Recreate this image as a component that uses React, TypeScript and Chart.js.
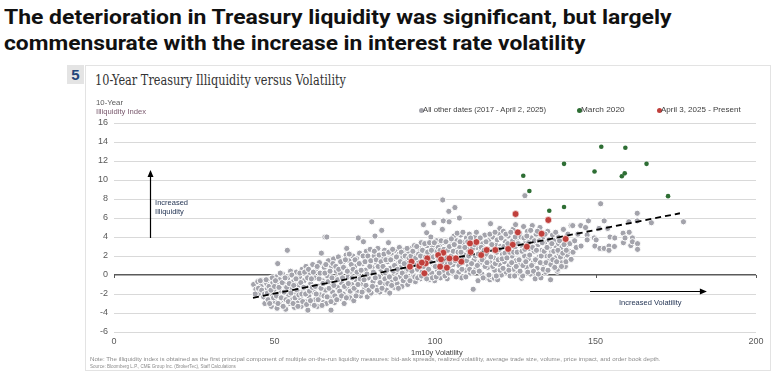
import React, { useEffect, useLayoutEffect, useRef, useState } from "react";
import { Chart, registerables } from "chart.js";
Chart.register(...registerables);

const headline = [
  "The deterioration in Treasury liquidity was significant, but largely",
  "commensurate with the increase in interest rate volatility",
];
const chartNumber = "5";
const chartTitle = "10-Year Treasury Illiquidity versus Volatility";
const yTitle1 = "10-Year";
const yTitle2 = "Illiquidity Index";
const xTitle = "1m10y Volatility";
const legendLabels = ["All other dates (2017 - April 2, 2025)", "March 2020", "April 3, 2025 - Present"];
const noteText =
  "Note: The illiquidity index is obtained as the first principal component of multiple on-the-run liquidity measures: bid-ask spreads, realized volatility, average trade size, volume, price impact, and order book depth.";
const sourceText = "Source: Bloomberg L.P., CME Group Inc. (BrokerTec), Staff Calculations";
const annotUp = ["Increased", "Illiquidity"];
const annotRight = "Increased Volatility";

const xTicks = [0, 50, 100, 150, 200];
const yTicks = [-6, -4, -2, 0, 2, 4, 6, 8, 10, 12, 14, 16];

// All other dates (2017 - April 2, 2025): [volatility, illiquidity]
const grayPoints: [number, number][] = [
  [43.5,-1.0],[44.2,-1.5],[44.8,-0.7],[45.3,-1.9],[45.8,-1.2],
  [46.3,-0.6],[46.6,-2.3],[47.0,-3.0],[47.2,-1.6],[47.6,-0.9],[48.0,-2.6],[48.3,-1.2],[48.7,-0.4],
  [49.0,-3.3],[49.2,-2.0],[49.5,-0.8],[49.9,-1.5],[50.2,-2.8],[50.5,-0.2],[50.8,-3.5],[50.9,-1.1],
  [51.0,1.2],[51.3,-2.3],[51.6,-0.5],[52.0,-3.1],[52.2,-1.7],[52.5,0.1],[52.9,-2.6],[53.2,-1.0],[53.5,-3.6],
  [54.0,2.6],[54.1,-0.3],[54.4,-2.1],[54.8,-3.0],[55.0,0.4],[55.3,-1.4],[55.6,-2.6],[55.9,-0.7],[56.2,-3.4],
  [56.5,-1.9],[56.8,0.3],[57.1,-2.9],[57.4,-1.1],[57.8,-0.2],[58.0,-2.4],[58.3,-3.3],[58.6,0.6],[58.9,-1.6],
  [59.2,-0.6],[59.5,-2.8],[59.8,0.9],[60.1,-1.3],[60.4,-3.7],[60.7,-2.2],[61.0,0.2],[61.3,-0.9],[61.6,-3.0],
  [61.9,1.1],[62.2,-1.8],[62.5,-0.3],[62.8,-2.6],[63.1,0.5],[63.4,-3.3],[63.7,-1.2],[64.0,1.3],[64.3,-2.1],
  [64.6,2.3],[64.9,-0.6],[65.2,-2.9],[65.5,0.8],[65.7,4.0],[65.9,-1.6],[66.2,-3.0],[66.3,4.0],[66.5,-0.1],[66.8,1.5],
  [67.1,-2.4],[67.4,-0.9],[67.6,-3.7],[67.8,0.9],[68.1,-1.8],[68.4,1.7],[68.7,-2.9],[69.0,-0.4],[69.3,0.4],
  [69.6,-1.3],[69.9,1.9],[70.2,-2.5],[70.5,0.2],[70.8,-0.8],[71.1,1.2],[71.4,-2.0],[71.7,-3.0],[72.0,0.7],
  [72.3,2.1],[72.5,2.8],[72.6,-1.4],[72.9,-0.2],[73.2,1.5],[73.5,-2.4],[73.8,0.4],[74.1,-1.0],[74.4,2.0],
  [74.7,-2.7],[75.0,0.9],[75.3,-0.5],[75.6,1.7],[75.9,-1.8],[76.1,3.9],[76.2,0.1],[76.5,2.3],[76.8,-2.2],
  [77.1,-0.9],[77.4,1.2],[77.7,3.5],[78.0,-1.5],[78.3,0.5],[78.6,2.5],[78.9,-2.3],[79.2,-0.3],[79.5,1.6],
  [79.8,2.7],[80.1,-1.9],[80.3,5.6],[80.4,0.8],[80.7,-0.7],[81.0,2.0],[81.3,4.1],[81.6,-1.3],[81.9,1.2],
  [82.2,2.8],[82.5,-0.2],[82.8,-1.8],[83.1,0.6],[83.4,4.7],[83.7,1.9],[84.0,-1.0],[84.3,2.6],[84.6,0.2],
  [84.9,-1.6],[85.2,1.4],[85.5,3.4],[85.9,-1.9],[86.1,0.7],[86.4,2.3],[86.7,-0.6],[87.0,1.7],[87.3,-1.3],
  [87.6,2.6],[87.9,0.3],[88.2,-0.9],[88.5,1.2],[88.8,2.2],[89.1,-0.2],[89.4,0.8],[89.7,-1.2],[90.0,1.9],
  [90.3,2.6],[90.6,-0.5],[90.9,0.4],[91.2,1.4],[91.5,-1.0],[91.8,2.3],[92.1,0.9],[92.4,-0.3],[92.7,2.8],
  [93.0,1.6],[93.3,0.0],[93.6,3.1],[93.9,-0.7],[94.2,2.2],[94.5,0.6],[94.8,1.3],[95.1,2.8],[95.4,-0.4],
  [95.7,3.4],[96.0,0.3],[96.4,5.3],[96.3,1.8],[96.6,-0.2],[96.9,2.5],[97.2,0.7],[97.4,4.45],[97.5,3.1],[97.8,1.4],[98.1,-0.5],
  [98.4,2.2],[98.7,4.0],[99.0,0.2],[99.3,3.0],[99.6,1.1],[99.7,5.5],[99.9,-0.6],[100.2,2.6],[100.5,3.6],[100.8,0.5],
  [101.1,1.6],[101.4,3.1],[101.7,-0.3],[102.0,2.3],[102.4,7.9],[102.6,5.7],[102.3,4.8],[102.6,0.3],[102.9,3.4],
  [103.2,1.2],[103.5,2.7],[103.8,-0.4],[104.1,3.6],[104.3,6.7],[104.4,5.6],[104.7,0.6],[105.0,2.0],[105.3,3.2],
  [105.6,1.1],[105.9,4.1],[106.2,7.1],[106.2,0.0],[106.5,2.6],[106.8,3.6],[107.1,1.7],[107.4,0.3],[107.6,6.0],[107.7,2.9],
  [108.0,4.2],[108.3,-0.3],[108.6,1.3],[108.9,3.4],[109.2,2.1],[109.5,0.5],[109.8,3.9],[110.1,2.7],
  [110.4,1.0],[110.7,4.3],[111.0,0.2],[111.3,2.4],[111.6,3.4],[111.9,-1.5],[112.2,1.6],[112.5,4.0],[112.8,0.7],
  [113.1,2.9],[113.4,-0.6],[113.7,3.7],[114.0,1.3],[114.3,2.5],[114.6,0.1],[114.9,3.3],[115.2,1.8],[115.5,4.2],
  [115.8,-0.3],[116.1,2.2],[116.4,0.8],[116.7,3.6],[117.0,1.4],[117.1,-0.5],[117.3,5.4],[117.4,2.8],[117.7,-0.2],[118.0,4.0],
  [118.3,1.8],[118.5,-0.35],[118.6,0.5],[118.9,3.2],[119.2,2.4],[119.5,-0.5],[119.8,4.4],[120.1,1.1],[120.2,4.9],[120.4,3.0],[120.7,0.0],
  [121.0,2.2],[121.3,4.6],[121.6,1.4],[121.9,3.5],[122.2,0.3],[122.5,2.7],[122.8,4.1],[123.1,1.0],[123.4,-0.1],
  [123.7,3.3],[124.0,2.0],[124.3,4.8],[124.6,0.6],[124.9,2.9],[125.1,5.3],[125.2,1.5],[125.5,3.8],[125.8,0.2],
  [126.1,2.4],[126.4,4.4],[126.7,1.2],[127.0,-0.35],[127.0,3.1],[127.3,-0.1],[127.6,5.1],[127.9,2.0],[128.0,8.35],[128.2,3.6],
  [128.5,0.8],[128.8,4.6],[129.1,1.7],[129.4,2.8],[129.7,0.1],[130.0,3.9],[130.3,5.2],[130.6,1.3],[130.9,2.5],
  [131.2,-0.4],[131.5,4.3],[131.8,0.7],[132.1,3.2],[132.4,1.9],[132.7,5.0],[133.0,-0.3],[133.3,2.6],[133.6,4.0],
  [133.9,1.1],[134.2,3.4],[134.5,0.3],[134.8,2.0],[135.1,4.6],[135.4,1.5],[135.7,3.0],[136.0,-0.5],[136.3,2.4],
  [136.6,4.2],[136.9,0.9],[137.2,3.6],[137.5,1.8],[137.8,2.9],[138.1,0.4],[138.2,0.6],[138.4,4.0],[138.5,3.3],[138.7,2.2],[139.0,2.6],[139.3,1.3],
  [139.5,2.9],[139.6,3.5],[140.0,4.8],[140.3,2.0],[140.5,3.8],[140.6,0.9],[140.8,1.4],[141.0,3.1],[141.2,2.1],[141.4,4.3],[141.8,2.5],
  [142.0,3.3],[142.4,1.65],[142.4,5.2],[142.9,5.2],[143.0,2.4],[143.5,3.6],[144.0,2.9],[144.5,4.3],[145.4,5.2],[145.5,3.05],
  [146.9,5.0],[147.4,4.2],[147.4,3.7],[147.8,5.7],[149.6,3.9],[149.8,3.05],[150.2,3.7],[151.1,4.9],[151.4,2.8],[151.6,7.5],
  [152.7,5.7],[152.7,2.8],[153.8,4.9],[154.2,3.05],[154.2,2.6],[154.5,4.0],[155.9,3.0],[156.0,3.9],[158.6,4.4],[158.7,3.4],
  [159.2,3.9],[160.4,5.6],[160.5,4.5],[161.0,3.1],[161.5,3.9],[161.5,3.5],[163.0,6.5],[163.0,5.7],[163.1,3.3],[163.1,2.7],
  [167.4,5.5],[177.4,5.6],
];

// More of the same series, read from the dense core of the cloud
const grayPointsCore: [number, number][] = [
  [44.0,-2.0],[45.0,-1.4],[45.6,-0.6],[46.0,-1.6],[46.9,-2.0],[47.4,-0.5],
  [47.8,-1.9],[48.5,-3.0],[48.9,-1.6],[49.3,-0.3],[49.7,-2.4],[50.0,-1.2],[50.3,-0.6],
  [50.6,-2.2],[51.1,-3.0],[51.4,-1.3],[51.8,0.2],[52.1,-2.4],[52.4,-0.8],[52.7,-3.3],[53.0,-1.8],[53.3,-0.3],[53.6,-2.6],
  [53.8,-1.3],[54.3,-2.8],[54.6,-0.9],[55.1,-1.9],[55.4,0.0],[55.8,-3.0],[56.0,-1.1],[56.4,-2.4],[56.7,-0.4],[57.0,-1.6],
  [57.3,-3.3],[57.6,-2.1],[57.9,0.2],[58.2,-0.8],[58.5,-2.0],[58.8,-2.8],[59.1,-1.3],[59.4,0.3],[59.7,-2.0],[60.0,-3.1],
  [60.3,-0.3],[60.6,0.6],[60.9,-1.7],[61.2,-2.7],[61.5,-0.4],[61.8,-1.3],[62.1,0.3],[62.4,-3.2],[62.7,-1.2],[63.0,-2.0],[63.3,0.9],
  [63.6,-2.6],[63.9,-0.4],[64.2,0.2],[64.5,-1.4],[64.8,-3.2],[65.1,-0.9],[65.4,-2.2],[65.7,0.2],[66.0,1.1],[66.4,-2.3],[66.7,-0.7],
  [67.0,-1.4],[67.3,0.4],[67.6,-2.8],[67.9,-0.3],[68.2,1.2],[68.5,-1.1],[68.8,-2.2],[69.1,0.9],[69.4,-2.6],[69.7,-0.5],[70.0,0.6],
  [70.3,-1.7],[70.6,1.4],[70.9,-2.2],[71.2,-0.3],[71.5,0.8],[71.8,-1.2],[72.1,1.6],[72.4,-2.4],[72.7,0.4],[73.0,-0.9],[73.3,2.2],
  [73.6,-1.7],[73.9,1.1],[74.2,-0.3],[74.5,0.6],[74.8,-1.4],[75.1,1.6],[75.4,-2.2],[75.7,0.3],[76.0,-1.0],[76.4,1.2],[76.7,-0.4],
  [77.0,0.5],[77.3,-1.8],[77.6,2.0],[77.9,-0.5],[78.2,1.4],[78.5,-1.1],[78.8,0.1],[79.1,2.0],[79.4,-1.6],[79.7,0.9],
  [80.0,1.5],[80.5,-1.2],[80.8,0.3],[81.1,2.5],[81.4,-0.3],[81.7,1.6],[82.0,-1.6],[82.3,0.9],[82.6,2.1],[82.9,-0.8],
  [83.2,1.4],[83.5,-1.4],[83.8,0.9],[84.1,2.2],[84.4,-0.4],[84.7,1.6],[85.0,0.5],[85.3,-0.9],[85.6,2.4],[85.8,-0.2],
  [86.2,1.6],[86.5,-1.1],[86.8,2.7],[87.1,0.4],[87.4,1.0],[87.7,-0.4],[88.0,1.9],[88.3,0.6],[88.6,-1.4],[88.9,2.9],
  [89.2,1.4],[89.5,2.4],[89.8,0.2],[90.1,-0.6],[90.4,1.2],[90.7,2.0],[91.0,-0.2],[91.3,2.8],[91.6,0.6],[91.9,1.8],
  [92.2,-0.6],[92.5,2.0],[92.8,0.4],[93.1,2.5],[93.4,1.1],[93.7,-0.2],[94.0,1.8],[94.3,3.0],[94.6,-0.3],[94.9,2.2],
  [95.2,1.0],[95.5,2.0],[95.8,-0.1],[96.1,2.6],[96.5,0.9],[96.8,3.3],[97.1,1.9],[97.4,-0.4],[97.7,2.4],[98.0,0.6],
  [98.3,3.4],[98.6,1.4],[98.9,2.6],[99.2,-0.3],[99.5,1.9],[99.8,3.4],[100.1,0.9],[100.4,-0.2],[100.7,2.0],[101.0,2.9],
  [101.3,0.2],[101.6,2.6],[101.9,3.6],[102.2,1.4],[102.8,2.7],[103.1,-0.1],[103.4,3.5],[103.7,1.8],[104.0,2.6],[104.2,0.2],
  [104.5,3.0],[104.8,1.3],[105.1,3.8],[105.4,0.4],[105.7,2.5],[106.0,3.2],[106.3,1.5],[106.6,-0.2],[106.9,4.4],[107.2,2.4],
  [107.5,1.0],[107.8,3.5],[108.1,2.4],[108.4,0.6],[108.7,4.5],[109.0,1.7],[109.3,2.9],[109.6,-0.2],[109.9,1.5],[110.2,3.5],
  [110.5,2.0],[110.8,0.6],[111.1,3.9],[111.4,1.2],[111.7,2.8],[112.0,0.3],[112.3,3.2],[112.6,2.0],[112.9,4.5],[113.2,1.0],
  [113.5,2.2],[113.8,0.4],[114.1,3.9],[114.4,2.9],[114.7,1.6],[115.0,-0.3],[115.3,2.6],[115.6,0.9],[115.9,3.5],[116.2,1.3],
  [116.5,2.7],[116.8,0.0],[117.1,4.3],[117.4,1.9],[117.7,3.2],[118.0,0.9],[118.3,2.6],[118.7,4.5],[118.8,1.2],[119.1,-0.1],
  [119.4,3.7],[119.7,1.6],[120.0,2.7],[120.3,0.5],[120.6,3.9],[120.9,1.7],[121.2,0.7],[121.5,3.0],[121.8,2.3],[122.1,4.3],
  [122.4,1.8],[122.7,3.3],[123.0,0.5],[123.3,2.4],[123.6,4.5],[123.9,1.3],[124.2,3.6],[124.5,2.4],[124.8,-0.1],[125.0,4.0],
  [125.3,0.9],[125.6,2.4],[125.9,3.3],[126.2,1.6],[126.5,0.4],[126.8,4.0],[127.1,2.5],[127.4,1.0],[127.7,3.9],[128.0,2.7],
  [128.3,1.4],[128.6,4.1],[128.9,0.3],[129.2,3.4],[129.5,2.1],[129.8,4.7],[130.1,1.0],[130.4,2.9],[130.7,0.4],[131.0,3.6],
  [131.3,1.6],[131.6,2.6],[131.9,4.6],[132.2,0.1],[132.5,3.6],[132.8,1.3],[133.1,2.0],[133.4,3.4],[133.7,0.6],[134.0,2.5],
  [134.3,4.3],[134.6,1.3],[134.9,2.9],[135.2,0.5],[135.5,3.7],[135.8,2.0],[136.1,1.1],[136.4,3.3],[136.7,1.6],[137.0,2.5],
  [137.3,0.8],[137.6,4.5],[137.9,1.4],[138.3,2.6],[138.8,3.6],[139.1,1.9],[139.4,0.9],[139.8,2.3],[140.2,3.2],[140.9,2.6],
];

// March 2020
const marchPoints: [number, number][] = [
  [127.5,10.45],[129.4,8.84],[135.6,6.77],[140.2,11.7],[140.2,7.16],[149.7,10.9],
  [151.8,13.5],[158.2,10.4],[159.1,10.7],[159.3,13.4],[165.9,11.7],[172.6,8.3],
];

// April 3, 2025 - Present
const aprilPoints: [number, number][] = [
  [125.1,6.42],[125.8,4.49],[124.2,3.19],[128.6,2.98],[122.8,2.74],[118.8,2.63],[116.1,2.63],
  [112.9,3.47],[110.9,3.33],[111.1,2.42],[114.4,2.1],[108.2,1.4],[106.5,1.75],[104.5,1.75],
  [102.6,2.35],[101.0,2.1],[101.9,1.65],[101.6,0.88],[103.7,0.77],[97.6,1.75],[97.1,1.23],
  [96.7,0.18],[95.1,0.95],[95.9,1.3],[92.7,1.4],[92.2,0.88],[133.2,4.35],[135.3,5.79],[140.7,3.79],
];

// Fitted trend line endpoints
const trendLine: [number, number][] = [[43.3, -2.4], [176.3, 6.5]];

const SANS = "'Liberation Sans', Arial, sans-serif";

function FitText(props: {
  text: string; left: number; top: number; width: number; font: string; size: number;
  color: string; weight?: number | string; lineHeight?: number;
}) {
  const ref = useRef<HTMLSpanElement>(null);
  const [sx, setSx] = useState(1);
  useLayoutEffect(() => {
    if (ref.current) {
      const w = ref.current.offsetWidth;
      if (w > 0) setSx(props.width / w);
    }
  }, [props.text, props.width]);
  return (
    <span
      ref={ref}
      style={{
        position: "absolute", left: props.left, top: props.top, whiteSpace: "nowrap",
        fontFamily: props.font, fontSize: props.size, color: props.color,
        fontWeight: props.weight ?? "normal", lineHeight: (props.lineHeight ?? props.size) + "px",
        transform: `scaleX(${sx})`, transformOrigin: "0 0", display: "inline-block",
      }}
    >
      {props.text}
    </span>
  );
}

const annotPlugin = {
  id: "annotPlugin",
  beforeDatasetsDraw(chart: any) {
    const { ctx, scales } = chart;
    const xs = scales.x, ys = scales.y;
    const y0 = ys.getPixelForValue(0);
    ctx.save();
    ctx.strokeStyle = "#595959";
    ctx.lineWidth = 1;
    xTicks.forEach((t) => {
      const px = Math.round(xs.getPixelForValue(t)) + 0.5;
      ctx.beginPath();
      ctx.moveTo(px, y0);
      ctx.lineTo(px, y0 + 3);
      ctx.stroke();
    });
    ctx.restore();
  },
  afterDatasetsDraw(chart: any) {
    const { ctx, scales } = chart;
    const xs = scales.x, ys = scales.y;
    ctx.save();
    ctx.strokeStyle = "#000";
    ctx.fillStyle = "#000";
    ctx.lineWidth = 1.2;
    const ax = Math.round(xs.getPixelForValue(11.2)) + 0.5;
    const ay1 = ys.getPixelForValue(3.9);
    const ay2 = ys.getPixelForValue(11.05);
    ctx.beginPath(); ctx.moveTo(ax, ay1); ctx.lineTo(ax, ay2 + 5); ctx.stroke();
    ctx.beginPath(); ctx.moveTo(ax, ay2); ctx.lineTo(ax - 3, ay2 + 7); ctx.lineTo(ax + 3, ay2 + 7); ctx.closePath(); ctx.fill();
    const hy = Math.round(ys.getPixelForValue(-1.7)) + 0.5;
    const hx1 = xs.getPixelForValue(148.3);
    const hx2 = xs.getPixelForValue(184.7);
    ctx.beginPath(); ctx.moveTo(hx1, hy); ctx.lineTo(hx2 - 5, hy); ctx.stroke();
    ctx.beginPath(); ctx.moveTo(hx2, hy); ctx.lineTo(hx2 - 7, hy - 3); ctx.lineTo(hx2 - 7, hy + 3); ctx.closePath(); ctx.fill();
    ctx.fillStyle = "#1f3050";
    ctx.font = "7.5px " + SANS;
    ctx.textBaseline = "middle";
    ctx.textAlign = "left";
    const tx = xs.getPixelForValue(12.8);
    ctx.fillText(annotUp[0], tx, ys.getPixelForValue(7.6));
    ctx.fillText(annotUp[1], tx, ys.getPixelForValue(6.65));
    ctx.fillText(annotRight, xs.getPixelForValue(157.3), ys.getPixelForValue(-2.95));
    ctx.restore();
  },
};

function ScatterChart() {
  const canvasRef = useRef<HTMLCanvasElement>(null);
  useEffect(() => {
    const toXY = (arr: [number, number][]) => arr.map(([x, y]) => ({ x, y }));
    const chart = new Chart(canvasRef.current as HTMLCanvasElement, {
      type: "scatter",
      data: {
        datasets: [
          {
            label: legendLabels[1], data: toXY(marchPoints), order: 0,
            backgroundColor: "#2e6e34", borderColor: "#2e6e34", borderWidth: 0, pointRadius: 2.3,
          },
          {
            label: legendLabels[2], data: toXY(aprilPoints), order: 1,
            backgroundColor: "#c0403c", borderColor: "#ffffff", borderWidth: 0.6, pointRadius: 3.4,
          },
          {
            type: "line", label: "trend", data: toXY(trendLine), order: 2,
            borderColor: "#000", borderWidth: 1.8, borderDash: [6, 4], pointRadius: 0, fill: false,
          } as any,
          {
            label: legendLabels[0], data: toXY(grayPoints.concat(grayPointsCore)), order: 3,
            backgroundColor: "#a3a3ab", borderColor: "#ffffff", borderWidth: 1, pointRadius: 3.1,
          },
        ],
      },
      options: {
        responsive: false,
        animation: false,
        events: [],
        layout: { padding: { left: 86, right: 25, top: 123, bottom: 32 } },
        plugins: { legend: { display: false }, tooltip: { enabled: false }, title: { display: false } },
        scales: {
          x: {
            type: "linear", min: 0, max: 200,
            afterBuildTicks: (s: any) => { s.ticks = xTicks.map((v) => ({ value: v })); },
            afterFit: (s: any) => { s.height = 18; },
            grid: { display: false, drawTicks: false },
            border: { display: false },
            ticks: { color: "#595959", font: { size: 9, family: SANS }, padding: 4, maxRotation: 0 },
          },
          y: {
            type: "linear", min: -6, max: 16,
            afterBuildTicks: (s: any) => { s.ticks = yTicks.map((v) => ({ value: v })); },
            afterFit: (s: any) => { s.width = 28; },
            grid: {
              drawTicks: false,
              color: (c: any) => (c.tick && c.tick.value === 0 ? "#5a5a5a" : "#d9d9d9"),
              lineWidth: (c: any) => (c.tick && c.tick.value === 0 ? 1.5 : 1),
            },
            border: { display: false },
            ticks: { color: "#595959", font: { size: 9, family: SANS }, padding: 6 },
          },
        },
      },
      plugins: [annotPlugin],
    } as any);
    return () => chart.destroy();
  }, []);
  return (
    <canvas
      ref={canvasRef}
      width={781}
      height={382}
      style={{ position: "absolute", left: 0, top: 0, width: 781, height: 382 }}
    />
  );
}

export default function App() {
  const legendDot = (left: number, color: string) => (
    <span style={{ position: "absolute", left, top: 107.5, width: 5, height: 5, borderRadius: "50%", background: color }} />
  );
  return (
    <div style={{ position: "fixed", left: 0, top: 0, width: 781, height: 382, background: "#fff", overflow: "hidden" }}>
      <FitText text={headline[0]} left={4} top={4} width={668} font="Roboto, 'Liberation Sans', Arial, sans-serif" size={21} weight={700} color="#111" lineHeight={26} />
      <FitText text={headline[1]} left={4} top={29.5} width={581} font="Roboto, 'Liberation Sans', Arial, sans-serif" size={21} weight={700} color="#111" lineHeight={26} />
      <div style={{ position: "absolute", left: 85, top: 65, width: 686, height: 306, border: "1px solid #e3e3e3", boxSizing: "border-box" }} />
      <div style={{ position: "absolute", left: 67, top: 65, width: 17, height: 19, background: "#e4e4e4", color: "#23467a", fontFamily: SANS, fontWeight: "bold", fontSize: 15, lineHeight: "19px", textAlign: "center" }}>{chartNumber}</div>
      <FitText text={chartTitle} left={95} top={72} width={251} font="'DejaVu Serif', Georgia, serif" size={14} color="#333" lineHeight={16} />
      <ScatterChart />
      <FitText text={yTitle1} left={96} top={98.5} width={27} font={SANS} size={7.5} color="#5a5a5a" lineHeight={8} />
      <FitText text={yTitle2} left={96} top={107.5} width={50} font={SANS} size={7.5} color="#7a5a6e" lineHeight={8} />
      {legendDot(418.5, "#a3a3ab")}
      <FitText text={legendLabels[0]} left={423} top={106} width={123} font={SANS} size={7.5} color="#404040" lineHeight={8} />
      {legendDot(577, "#2e6e34")}
      <FitText text={legendLabels[1]} left={581} top={106} width={44} font={SANS} size={7.5} color="#404040" lineHeight={8} />
      {legendDot(657, "#c0403c")}
      <FitText text={legendLabels[2]} left={661} top={106} width={80} font={SANS} size={7.5} color="#404040" lineHeight={8} />
      <FitText text={xTitle} left={411} top={348} width={52} font={SANS} size={8} color="#404040" lineHeight={9} />
      <FitText text={noteText} left={90} top={355.5} width={570} font={SANS} size={5.5} color="#8a8a8a" lineHeight={6} />
      <FitText text={sourceText} left={90} top={362.5} width={146} font={SANS} size={5.5} color="#8a8a8a" lineHeight={6} />
    </div>
  );
}
